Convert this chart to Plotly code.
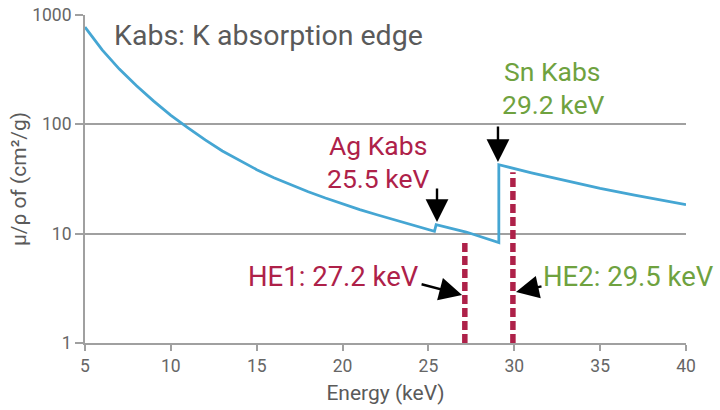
import plotly.graph_objects as go
import math

# ---- data ----
energy_kev = [5, 6, 7, 8, 9, 10, 11, 12, 13, 14, 15, 16, 17, 18, 19, 20, 21, 22, 23, 24, 25, 25.35,
              25.45, 27.2, 29.1,
              29.1, 31, 33, 35, 37, 40]
mu_rho = [775, 480, 320, 225, 163, 121, 93, 72, 57, 46.5, 38.5, 32.5, 28, 24.2, 21.2, 18.7, 16.6,
          14.9, 13.4, 12.1, 10.9, 10.5,
          12.1, 10.35, 8.3,
          42.7, 36, 30.5, 26, 22.5, 18.4]

he_labels = ["HE1: 27.2 keV", "HE2: 29.5 keV"]
he_energy = [27.12, 29.92]
he_top = [8.4, 36.5]

edge_lines = [["Ag Kabs", "25.5 keV"], ["Sn Kabs", "29.2 keV"]]
edge_energy = [25.5, 29.05]
edge_tip = [12.8, 45.2]

y_tickvals = [1, 10, 100, 1000]
y_ticktext = ["1", "10", "100", "1000"]
x_tickvals = [5, 10, 15, 20, 25, 30, 35, 40]

CRIMSON = "#AE2149"
GREEN = "#6FA23F"
BLUE = "#45A6D3"
GRID = "#A0A0A0"
TXT = "#5A5A5A"
FONT = "Roboto"
AFS = 27.5
EFS = 26.5

fig = go.Figure()

fig.add_trace(go.Scatter(
    x=energy_kev, y=mu_rho, mode="lines",
    line=dict(color=BLUE, width=2.8),
    showlegend=False, hoverinfo="skip"))

for e, top in zip(he_energy, he_top):
    fig.add_trace(go.Scatter(
        x=[e, e], y=[1, top], mode="lines",
        line=dict(color=CRIMSON, width=5.5, dash="9px,4px"),
        showlegend=False, hoverinfo="skip"))


def lg(v):
    return math.log10(v)


ann = []
ann.append(dict(x=6.6, y=2.81, xref="x", yref="y", text="Kabs: K absorption edge",
                showarrow=False, xanchor="left", yanchor="middle",
                font=dict(family=FONT, size=28.5, color=TXT)))
# edge labels, one annotation per line
for txt, yy in zip(edge_lines[0], [1.802, 1.509]):
    ann.append(dict(x=22.05, y=yy, text=txt, showarrow=False,
                    font=dict(family=FONT, size=EFS, color=CRIMSON)))
for txt, yy in zip(edge_lines[1], [2.479, 2.186]):
    ann.append(dict(x=32.25, y=yy, text=txt, showarrow=False,
                    font=dict(family=FONT, size=EFS, color=GREEN)))
ann.append(dict(x=edge_energy[0], y=lg(edge_tip[0]), ax=0, ay=-35, text="",
                showarrow=True, arrowhead=2, arrowsize=1.9, arrowwidth=2.4,
                arrowcolor="black", standoff=0))
ann.append(dict(x=edge_energy[1], y=lg(edge_tip[1]), ax=0, ay=-37, text="",
                showarrow=True, arrowhead=2, arrowsize=1.9, arrowwidth=2.4,
                arrowcolor="black", standoff=0))
ann.append(dict(x=19.45, y=0.61, text=he_labels[0], showarrow=False,
                font=dict(family=FONT, size=AFS, color=CRIMSON)))
ann.append(dict(x=31.55, y=0.61, text=he_labels[1], showarrow=False, xanchor="left",
                font=dict(family=FONT, size=AFS, color=GREEN)))
ann.append(dict(x=26.96, y=0.44, ax=-42, ay=-11, text="",
                showarrow=True, arrowhead=2, arrowsize=1.9, arrowwidth=2.4,
                arrowcolor="black", standoff=0))
ann.append(dict(x=30.1, y=0.466, ax=27, ay=-6, text="",
                showarrow=True, arrowhead=2, arrowsize=1.9, arrowwidth=2.4,
                arrowcolor="black", standoff=0))

fig.update_layout(
    width=720, height=410,
    margin=dict(l=85, r=34, t=15, b=67),
    paper_bgcolor="white", plot_bgcolor="white",
    font=dict(family=FONT, color=TXT),
    annotations=ann,
    xaxis=dict(range=[5, 40], tickvals=x_tickvals, showgrid=False, zeroline=False,
               automargin=False,
               showline=True, linecolor=GRID, linewidth=2,
               ticks="outside", ticklen=6, tickwidth=1.5, tickcolor=GRID,
               tickfont=dict(family=FONT, size=17.5, color="#666666"),
               title=dict(text="Energy (keV)", standoff=10,
                          font=dict(family=FONT, size=21, color=TXT))),
    yaxis=dict(type="log", range=[0, 3], tickvals=y_tickvals, ticktext=y_ticktext,
               automargin=False,
               showgrid=True, gridcolor=GRID, gridwidth=2, zeroline=False,
               showline=True, linecolor=GRID, linewidth=2,
               ticks="outside", ticklen=8, tickwidth=2, tickcolor=GRID,
               tickfont=dict(family=FONT, size=17.5, color="#666666"),
               title=dict(text="μ/ρ of (cm²/g)", standoff=0,
                          font=dict(family=FONT, size=21, color=TXT))),
)

fig.write_html("out.html")
